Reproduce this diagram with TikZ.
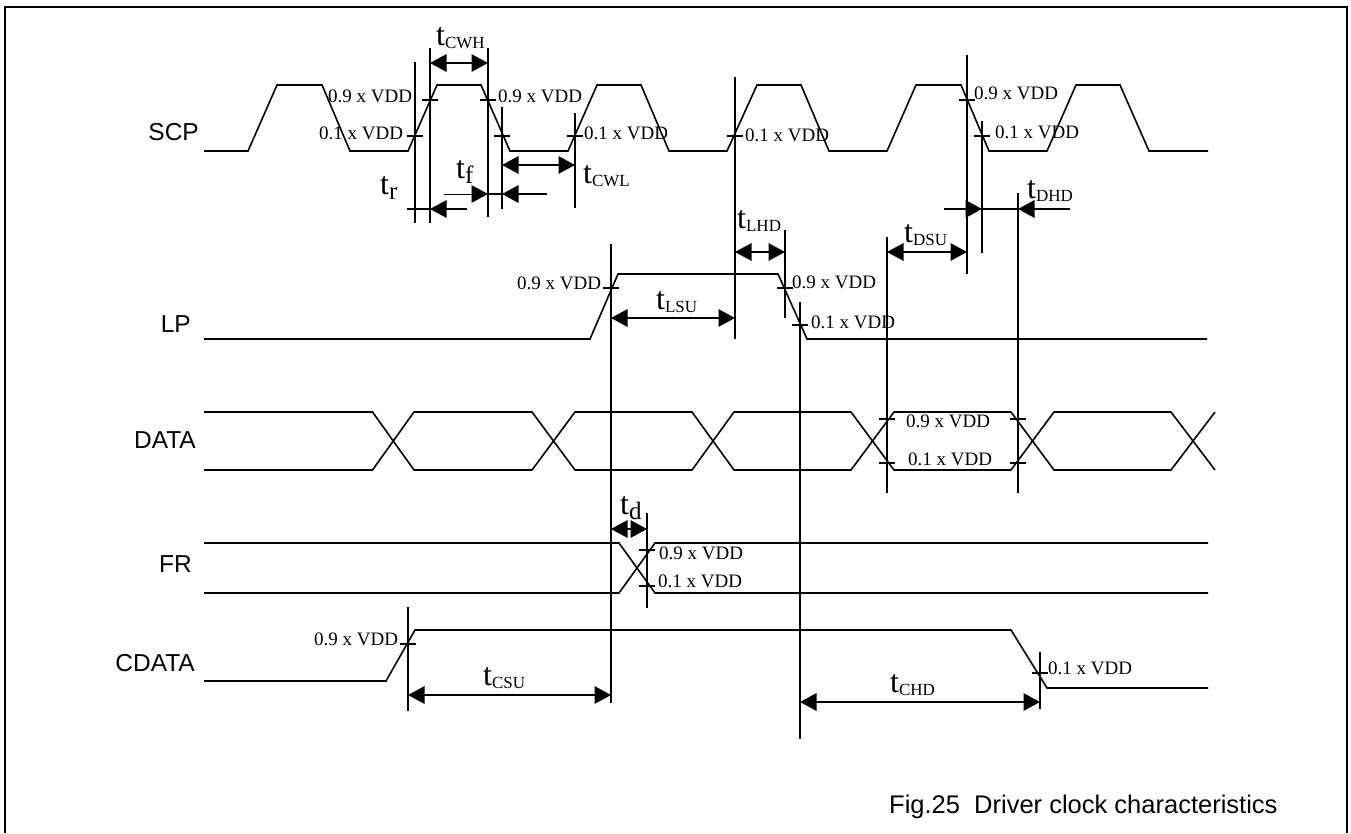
\documentclass[tikz,border=0pt]{standalone}
\usepackage{fontspec}
\setmainfont{Liberation Serif}
\setsansfont{Liberation Sans}
\usetikzlibrary{arrows.meta}
\newcommand{\tsz}[1]{\fontsize{#1}{#1}\selectfont}
\newcommand{\tlong}[1]{{\tsz{32}t}{\tsz{17}\raisebox{-3.5pt}{#1}}}
\newcommand{\tshort}[1]{{\tsz{32}t}{\tsz{25}\raisebox{-5pt}{#1}}}
\tikzset{
  x=1pt,y=-1pt,
  wave/.style={line width=1.6pt,line join=miter},
  guide/.style={line width=1.6pt},
  tickm/.style={line width=1.6pt},
  frameline/.style={line width=2pt},
  tip/.style={-{Triangle[length=16.5pt,width=17.5pt]},line width=1.6pt},
  tips/.style={{Triangle[length=16.5pt,width=17.5pt]}-{Triangle[length=16.5pt,width=17.5pt]},line width=1.6pt},
  thintip/.style={-{Triangle[length=16.5pt,width=17.5pt]},line width=0.9pt},
  level/.style={anchor=base west,inner sep=0pt,font=\tsz{19}},
  tlabel/.style={anchor=base west,inner sep=0pt},
  signal/.style={anchor=base east,inner sep=0pt,font=\sffamily\tsz{24.5}},
  caption/.style={anchor=base west,inner sep=0pt,font=\sffamily\tsz{25.5}},
}
\begin{document}
\begin{tikzpicture}
\useasboundingbox (0,0) rectangle (1351,833);
% frame
\draw[frameline] (4.5,833) -- (4.5,6.5) -- (1347,6.5) -- (1347,833);
% SCP
\draw[wave] (204,151) -- (248,151) -- (277,85) -- (322,85) -- (350,151) -- (408,151) -- (437,85) -- (481,85) -- (510,151) -- (568,151) -- (597,85) -- (641,85) -- (669,151) -- (727,151) -- (757,85) -- (801,85) -- (829,151) -- (887,151) -- (916,85) -- (961,85) -- (989,151) -- (1047,151) -- (1076,85) -- (1120,85) -- (1149,151) -- (1208,151);
% LP
\draw[wave] (204,339) -- (590,339) -- (618,274) -- (778,274) -- (807,339) -- (1207,339);
% DATA
\draw[wave] (204,412) -- (372.5,412) -- (414,470) -- (532,470) -- (575,412) -- (692,412) -- (734,470) -- (851,470) -- (894,412) -- (1011,412) -- (1054,470) -- (1171,470) -- (1215,412);
\draw[wave] (204,470) -- (372.5,470) -- (414,412) -- (532,412) -- (575,470) -- (692,470) -- (734,412) -- (851,412) -- (894,470) -- (1011,470) -- (1054,412) -- (1171,412) -- (1215,470);
% FR
\draw[wave] (204,543) -- (619,543) -- (655,593) -- (1208,593);
\draw[wave] (204,593) -- (619,593) -- (655,543) -- (1208,543);
% CDATA
\draw[wave] (204,681) -- (386,681) -- (415,630) -- (1011,630) -- (1047,688) -- (1208,688);
% guides
\draw[guide] (415,62) -- (415,223);
\draw[guide] (430,48) -- (430,223);
\draw[guide] (488,48) -- (488,217);
\draw[guide] (502,107) -- (502,209);
\draw[guide] (575,113) -- (575,208);
\draw[guide] (735,77) -- (735,339);
\draw[guide] (967,55) -- (967,274);
\draw[guide] (982,121) -- (982,253);
\draw[guide] (785,230) -- (785,318);
\draw[guide] (800,302) -- (800,739);
\draw[guide] (887,237) -- (887,493);
\draw[guide] (1018,193) -- (1018,493);
\draw[guide] (611,244) -- (611,703);
\draw[guide] (647,513) -- (647,608);
\draw[guide] (408,607) -- (408,711);
\draw[guide] (1040,652) -- (1040,709);
% ticks
\foreach \tx/\ty in {430/100,488/100,415/136,502/136,575/136,735/136,967/100,982/136,785/288,800/325,611/288,887/419,1018/419,887/463,1018/463,647/550,647/586,408/644,1040/673}
  \draw[tickm] (\tx-8,\ty) -- (\tx+8,\ty);
% dimension arrows
\draw[tips] (430,63) -- (488,63);
\draw[tips] (502,165) -- (575,165);
\draw[thintip] (444,194) -- (488,194);
\draw[tickm] (488,194) -- (502,194);
\draw[tip] (547,194) -- (502,194);
\draw[tickm] (407,209) -- (430,209);
\draw[tip] (467,209) -- (430,209);
\draw[tips] (735,252) -- (785,252);
\draw[tips] (887,252) -- (967,252);
\draw[tip] (944,209) -- (982,209);
\draw[tickm] (982,209) -- (1018,209);
\draw[tip] (1070,209) -- (1018,209);
\draw[tips] (611,318) -- (735,318);
\draw[tips] (611,529) -- (647,529);
\draw[tips] (408,695) -- (611,695);
\draw[tips] (800,702) -- (1040,702);
% level labels
\node[level] (l1) at (328,102) {0.9 x VDD};
\node[level] (l2) at (319,139) {0.1 x VDD};
\node[level] (l3) at (498,102) {0.9 x VDD};
\node[level] (l4) at (584,139) {0.1 x VDD};
\node[level] (l5) at (745,141) {0.1 x VDD};
\node[level] (l6) at (974,99) {0.9 x VDD};
\node[level] (l7) at (995,138) {0.1 x VDD};
\node[level] (l8) at (792,288) {0.9 x VDD};
\node[level] (l9) at (811,328) {0.1 x VDD};
\node[level] (l10) at (517,289) {0.9 x VDD};
\node[level] (l11) at (906,427) {0.9 x VDD};
\node[level] (l12) at (908,465) {0.1 x VDD};
\node[level] (l13) at (659,559) {0.9 x VDD};
\node[level] (l14) at (658,587) {0.1 x VDD};
\node[level] (l15) at (314,645) {0.9 x VDD};
\node[level] (l16) at (1048,674) {0.1 x VDD};
% timing labels
\node[tlabel] (tcwh) at (436,45) {\tlong{CWH}};
\node[tlabel] (tr) at (380,194) {\tshort{r}};
\node[tlabel] (tf) at (456,178) {\tshort{f}};
\node[tlabel] (tcwl) at (583,183) {\tlong{CWL}};
\node[tlabel] (tlhd) at (737,228) {\tlong{LHD}};
\node[tlabel] (tdsu) at (904,242) {\tlong{DSU}};
\node[tlabel] (tdhd) at (1027,198) {\tlong{DHD}};
\node[tlabel] (tlsu) at (656,309) {\tlong{LSU}};
\node[tlabel] (td) at (620,514) {\tshort{d}};
\node[tlabel] (tcsu) at (483,685) {\tlong{CSU}};
\node[tlabel] (tchd) at (890,692) {\tlong{CHD}};
% signal names
\node[signal] (scp) at (199,140) {SCP};
\node[signal] (lp) at (191,332) {LP};
\node[signal] (data) at (196,448) {DATA};
\node[signal] (fr) at (192,572) {FR};
\node[signal] (cdata) at (195,671) {CDATA};
\node[caption] (cap) at (889,813) {Fig.25\ \ Driver clock characteristics};
\end{tikzpicture}
\end{document}
